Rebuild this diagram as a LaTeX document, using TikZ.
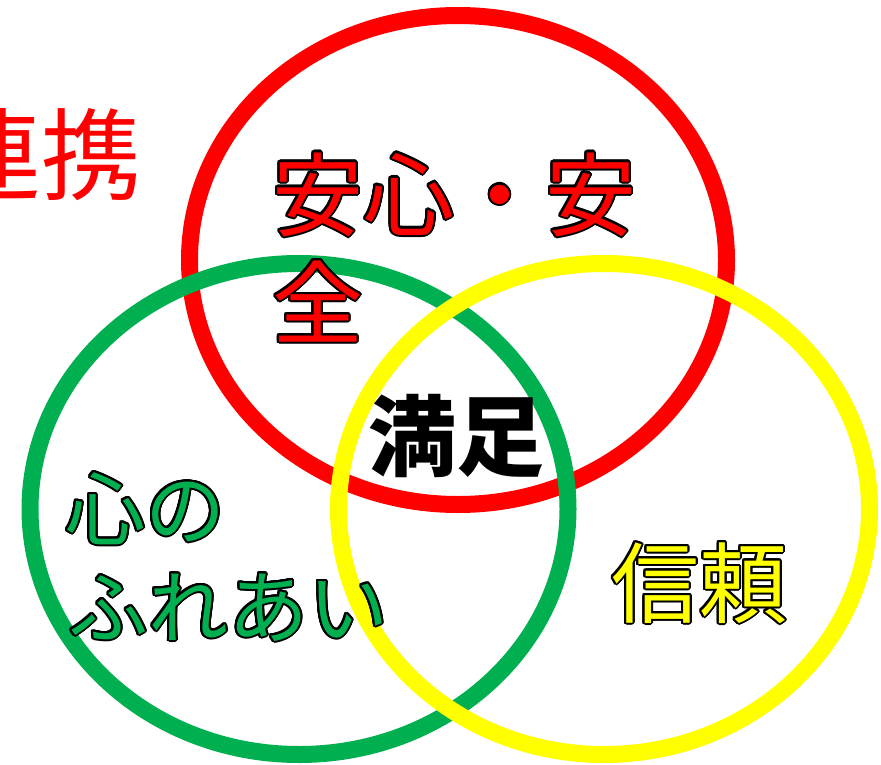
\documentclass[tikz,border=0pt]{standalone}
\usepackage{fontspec}
\usepackage{contour}
\newfontfamily\jp{Noto Sans CJK JP}
\definecolor{ogreen}{HTML}{00B050}
\definecolor{oyellow}{HTML}{FFFF00}
\definecolor{ored}{HTML}{FF0000}
\contourlength{2pt}
\contournumber{24}
\tikzset{
  ring/.style={line width=17pt},
  lbl/.style={inner sep=0pt, anchor=base west, font=\jp},
}
\begin{document}
\begin{tikzpicture}[x=1pt,y=-1pt]
\useasboundingbox[fill=white] (0,0) rectangle (881,765);
\draw[ring, ored] (458,260) ellipse [x radius=268.5pt, y radius=244.5pt];
\draw[ring, ogreen] (299,509) ellipse [x radius=269pt, y radius=245.5pt];
\draw[ring, oyellow] (604,509) ellipse [x radius=265.5pt, y radius=245.5pt];
\node[lbl, text=ored, font=\jp\fontsize{100}{110}\selectfont] (renkei) at (-59,193) {連携};
\node[lbl, text=ored, font=\jp\fontsize{91}{109}\selectfont] (anshin) at (272,229) {\contour{black}{安心・安}};
\node[lbl, text=ored, font=\jp\fontsize{91}{109}\selectfont] (zen) at (272,337) {\contour{black}{全}};
\node[lbl, text=black, font=\jp\bfseries\fontsize{88}{100}\selectfont] (manzoku) at (368,469) {満足};
\node[lbl, text=ogreen, font=\jp\fontsize{80}{94}\selectfont] (kokoro) at (65,539) {\contour{black}{心の}};
\node[lbl, text=ogreen, font=\jp\fontsize{80}{94}\selectfont] (fureai) at (68,637) {\contour{black}{ふれあい}};
\node[lbl, text=oyellow, font=\jp\fontsize{88}{100}\selectfont] (shinrai) at (611,616) {\contour{black}{信頼}};
\end{tikzpicture}
\end{document}
